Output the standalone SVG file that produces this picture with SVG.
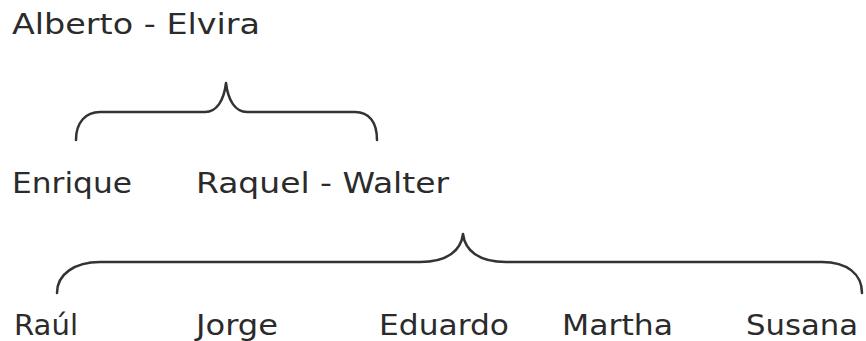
<svg xmlns="http://www.w3.org/2000/svg" width="866" height="341" viewBox="0 0 866 341">
<style>
text{font-family:"DejaVu Sans","Verdana",sans-serif;font-size:28px;fill:#2b2b2b}
.brace{fill:none;stroke:#333;stroke-width:2.5;stroke-linecap:round;stroke-linejoin:round}
</style>
<rect width="866" height="341" fill="#fff"/>
<g id="connectors">
<path class="brace" d="M76,140 C76,122 86,112 100,112 L205,112 C217,112 224,100 226,83 C228,100 235,112 247,112 L355,112 C369,112 377,122 377,140"/>
<path class="brace" d="M57,293 C57,274 75,262 100,262 L420,262 C448,262 461,250 463,234 C465,250 478,262 506,262 L822,262 C847,262 862,274 862,293"/>
</g>
<g id="alberto-elvira"><text x="12" y="34" textLength="248" lengthAdjust="spacingAndGlyphs">Alberto - Elvira</text></g>
<g id="enrique"><text x="12" y="193" textLength="120" lengthAdjust="spacingAndGlyphs">Enrique</text></g>
<g id="raquel-walter"><text x="196" y="193" textLength="253" lengthAdjust="spacingAndGlyphs">Raquel - Walter</text></g>
<g id="raul"><text x="14" y="335" textLength="64" lengthAdjust="spacingAndGlyphs">Raúl</text></g>
<g id="jorge"><text x="196" y="335" textLength="82" lengthAdjust="spacingAndGlyphs">Jorge</text></g>
<g id="eduardo"><text x="379" y="335" textLength="130" lengthAdjust="spacingAndGlyphs">Eduardo</text></g>
<g id="martha"><text x="562" y="335" textLength="111" lengthAdjust="spacingAndGlyphs">Martha</text></g>
<g id="susana"><text x="746" y="335" textLength="112" lengthAdjust="spacingAndGlyphs">Susana</text></g>
</svg>
